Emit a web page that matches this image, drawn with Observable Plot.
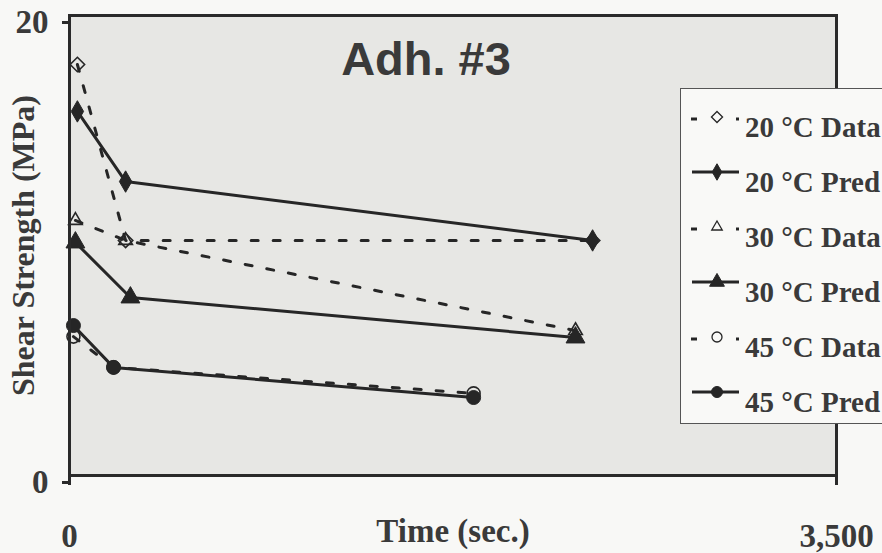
<!DOCTYPE html>
<html>
<head>
<meta charset="utf-8">
<script src="https://cdn.jsdelivr.net/npm/d3@7"></script>
<script src="https://cdn.jsdelivr.net/npm/@observablehq/plot@0.6"></script>
<style>
  html, body { margin: 0; padding: 0; background: #f8f8f6; }
  #wrap { position: relative; width: 882px; height: 553px; overflow: hidden; }
  #legend {
    position: absolute; left: 680px; top: 88px; width: 220px; height: 336px;
    background: #f9f9f7; border: 1.5px solid #555; box-sizing: border-box;
    font-family: "Liberation Serif", "Times New Roman", serif; font-weight: bold;
    font-size: 29px; color: #3a3a3a;
  }
  .entry { position: absolute; left: 0; height: 40px; width: 220px; }
  .entry svg { position: absolute; left: 0; top: 0; }
  .entry span { position: absolute; left: 64px; top: 5px; white-space: nowrap; line-height: 30px; }
</style>
</head>
<body>
<div id="wrap"></div>
<script>
// ---- data ----
const seriesNames = ["20 °C Data", "20 °C Pred", "30 °C Data", "30 °C Pred", "45 °C Data", "45 °C Pred"];

const time20Data = [36, 256, 2387];
const shear20Data = [17.87, 10.22, 10.22];
const time20Pred = [36, 256, 2387];
const shear20Pred = [15.83, 12.78, 10.22];

const time30Data = [27, 256, 2309];
const shear30Data = [11.09, 10.22, 6.30];
const time30Pred = [27, 278, 2309];
const shear30Pred = [10.13, 7.74, 6.0];

const time45Data = [18, 201, 1844];
const shear45Data = [6.04, 4.70, 3.57];
const time45Pred = [18, 201, 1844];
const shear45Pred = [6.52, 4.70, 3.39];

const xTicks = [0, 3500];
const yTicks = [0, 20];

const seriesTimes = [time20Data, time20Pred, time30Data, time30Pred, time45Data, time45Pred];
const seriesShear = [shear20Data, shear20Pred, shear30Data, shear30Pred, shear45Data, shear45Pred];

// table built from the arrays
const rows = seriesNames.flatMap((name, i) =>
  seriesTimes[i].map((t, j) => ({series: name, time: t, shear: seriesShear[i][j]}))
);

const ink = "#262626";
const symbolFor = {
  "20 °C Data": "diamond2", "20 °C Pred": "diamond",
  "30 °C Data": "triangle2", "30 °C Pred": "triangle",
  "45 °C Data": "circle", "45 °C Pred": "circle"
};
const isData = n => n.endsWith("Data");
const sizeFor = {
  "20 °C Data": 6.5, "20 °C Pred": 6.5,
  "30 °C Data": 6.5, "30 °C Pred": 7,
  "45 °C Data": 6.5, "45 °C Pred": 7
};

const marks = [Plot.frame({fill: "#e7e7e4", stroke: null})];
// dashed "Data" lines
for (const name of seriesNames.filter(isData)) {
  marks.push(Plot.line(rows.filter(d => d.series === name), {
    x: "time", y: "shear", stroke: ink, strokeWidth: 3, strokeDasharray: "7,15"
  }));
}
// solid "Pred" lines
for (const name of seriesNames.filter(n => !isData(n))) {
  marks.push(Plot.line(rows.filter(d => d.series === name), {
    x: "time", y: "shear", stroke: ink, strokeWidth: 3
  }));
}
// markers
for (const name of seriesNames) {
  const data = isData(name);
  marks.push(Plot.dot(rows.filter(d => d.series === name), {
    x: "time", y: "shear",
    symbol: symbolFor[name], r: sizeFor[name],
    fill: data ? "none" : ink,
    stroke: ink, strokeWidth: data ? 1.6 : 1
  }));
}
// frame borders
marks.push(Plot.frame({stroke: "#2a2a2a", strokeWidth: 3}));
// axes
marks.push(Plot.axisX(xTicks, {
  tickSize: 10, tickPadding: 38, tickFormat: d3.format(","), stroke: "#2a2a2a", strokeWidth: 3,
  fontSize: 33, fill: "#3a3a3a", label: null
}));
marks.push(Plot.axisY(yTicks, {
  tickSize: 7, tickPadding: 14, dy: 7, stroke: "#2a2a2a", strokeWidth: 3,
  fontSize: 33, fill: "#3a3a3a", label: null
}));
// axis titles and chart title
marks.push(Plot.text(["Time (sec.)"], {
  frameAnchor: "bottom", dy: 66, fontSize: 33, fill: "#3a3a3a", text: d => d
}));
marks.push(Plot.text(["Shear Strength (MPa)"], {
  frameAnchor: "left", textAnchor: "middle", dx: -46, rotate: -90, fontSize: 32, fill: "#3a3a3a", text: d => d
}));
marks.push(Plot.text(["Adh. #3"], {
  frameAnchor: "top", dx: -27, dy: 44, fontSize: 47, fontFamily: "Liberation Sans, Arial, sans-serif",
  fill: "#3a3a3a", text: d => d, lineAnchor: "middle"
}));

const chart = Plot.plot({
  width: 882,
  height: 553,
  marginLeft: 69,
  marginRight: 46,
  marginTop: 15,
  marginBottom: 78,
  style: {
    background: "transparent",
    fontFamily: "Liberation Serif, 'Times New Roman', serif",
    fontWeight: "bold",
    color: "#3a3a3a",
    overflow: "visible"
  },
  x: {domain: [0, 3500], axis: null},
  y: {domain: [0, 20], axis: null},
  marks
});

const wrap = document.getElementById("wrap");
wrap.appendChild(chart);

// legend (HTML overlay with d3-generated symbols)
const legend = document.createElement("div");
legend.id = "legend";
wrap.appendChild(legend);
const rowTops = [20, 75, 130, 185, 240, 295];
const d3Sym = {
  "diamond2": d3.symbolDiamond2, "diamond": d3.symbolDiamond,
  "triangle2": d3.symbolTriangle2, "triangle": d3.symbolTriangle, "circle": d3.symbolCircle
};
seriesNames.forEach((name, i) => {
  const e = document.createElement("div");
  e.className = "entry";
  e.style.top = (rowTops[i] - 2) + "px";
  const svg = d3.create("svg").attr("width", 64).attr("height", 40);
  const cy = 10;
  const data = isData(name);
  if (data) {
    svg.append("line").attr("x1", 10).attr("x2", 16).attr("y1", cy + 2).attr("y2", cy + 2)
      .attr("stroke", ink).attr("stroke-width", 3);
    svg.append("line").attr("x1", 55).attr("x2", 58).attr("y1", cy + 2).attr("y2", cy + 2)
      .attr("stroke", ink).attr("stroke-width", 3);
  } else {
    svg.append("line").attr("x1", 11).attr("x2", 58).attr("y1", cy).attr("y2", cy)
      .attr("stroke", ink).attr("stroke-width", 3);
  }
  const r = sizeFor[name] - 1.5;
  svg.append("path")
    .attr("transform", `translate(36,${cy})`)
    .attr("d", d3.symbol(d3Sym[symbolFor[name]], Math.PI * r * r)())
    .attr("fill", data ? "none" : ink)
    .attr("stroke", ink).attr("stroke-width", data ? 1.3 : 1);
  e.appendChild(svg.node());
  const s = document.createElement("span");
  s.textContent = name;
  e.appendChild(s);
  legend.appendChild(e);
});
</script>
</body>
</html>
